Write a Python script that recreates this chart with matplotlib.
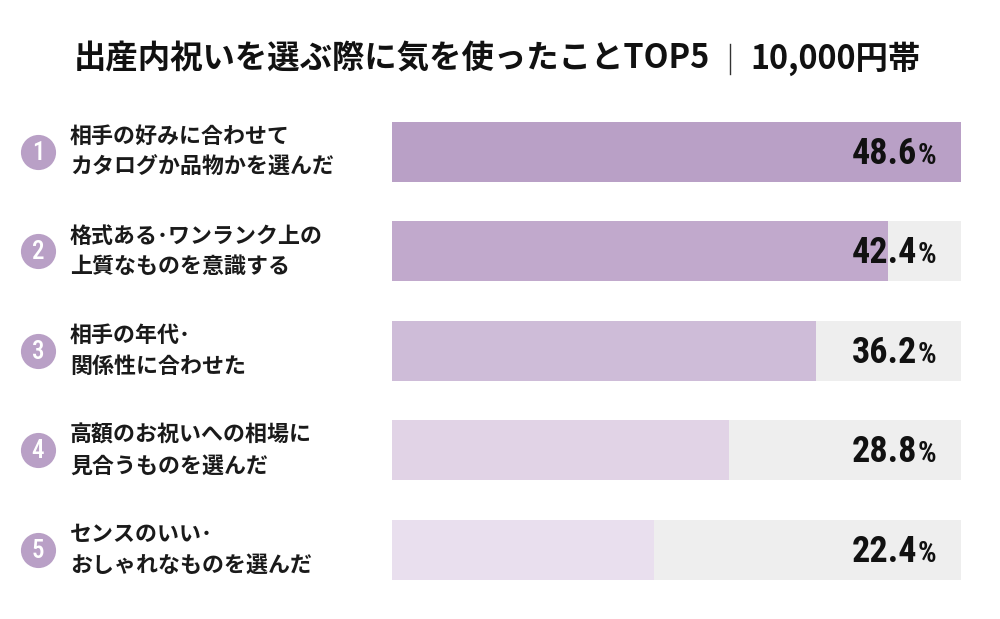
import matplotlib
matplotlib.use("Agg")
import matplotlib.pyplot as plt
from matplotlib import transforms
from matplotlib.lines import Line2D

plt.rcParams['font.family'] = ['Noto Sans CJK JP', 'DejaVu Sans']

title_left = "出産内祝いを選ぶ際に気を使ったことTOP5"
title_right = "10,000円帯"
ranks = ["1", "2", "3", "4", "5"]
labels = [
    "相手の好みに合わせて\nカタログか品物かを選んだ",
    "格式ある･ワンランク上の\n上質なものを意識する",
    "相手の年代･\n関係性に合わせた",
    "高額のお祝いへの相場に\n見合うものを選んだ",
    "センスのいい･\nおしゃれなものを選んだ",
]
values = [48.6, 42.4, 36.2, 28.8, 22.4]
bar_colors = ["#b9a0c6", "#c1a9cc", "#cebcd8", "#e1d3e6", "#e9dfee"]
track_color = "#eeeeee"
circle_color = "#b9a0c6"

num_family = ["Roboto Condensed", "Roboto", "DejaVu Sans"]

W, H = 1000, 619
fig = plt.figure(figsize=(W / 100, H / 100), dpi=100)
fig.patch.set_facecolor("white")

ax = fig.add_axes([392 / W, 1 - 580 / H, (961 - 392) / W, (580 - 122) / H])
n = len(values)
bh = 60 / 99.5
ax.set_ylim(n - 1 + bh / 2, -bh / 2)
xmax = max(values)
ax.set_xlim(0, xmax)
ax.axis("off")

ypos = list(range(n))
ax.barh(ypos, [xmax] * n, height=bh, color=track_color, left=0)
ax.barh(ypos, values, height=bh, color=bar_colors, left=0)

blend = transforms.blended_transform_factory(fig.transFigure, ax.transData)

for i, (r, lab, v) in enumerate(zip(ranks, labels, values)):
    ax.scatter([38 / W], [i], s=640, color=circle_color, transform=blend,
               clip_on=False, zorder=5, linewidths=0)
    ax.text(38 / W, i + 0.01, r, transform=blend, ha="center", va="center",
            color="white", fontsize=18, family=num_family,
            fontweight="medium", zorder=6)
    ax.text(70 / W, i, lab, transform=blend, ha="left", va="center",
            fontsize=15.8, fontweight="bold", color="#1a1a1a",
            linespacing=1.43)
    ax.text(917 / W, i + 0.02, f"{v:.1f}", transform=blend, ha="right",
            va="center", fontsize=26, fontweight="bold", color="#111111",
            family=num_family, zorder=6)
    ax.text(918 / W, i + 0.04, "%", transform=blend, ha="left",
            va="center", fontsize=21, fontweight="bold", color="#111111",
            family=num_family, zorder=6)

fig.text(710 / W, 1 - 59 / H, title_left, ha="right", va="center",
         fontsize=23.3, fontweight="bold", color="#111111")
fig.add_artist(Line2D([730 / W, 730 / W], [1 - 44 / H, 1 - 74 / H],
                      transform=fig.transFigure, color="#333333", lw=1.0))
fig.text(750 / W, 1 - 59 / H, title_right, ha="left", va="center",
         fontsize=23.3, fontweight="bold", color="#111111")

fig.savefig("out.png", dpi=100, facecolor="white")
